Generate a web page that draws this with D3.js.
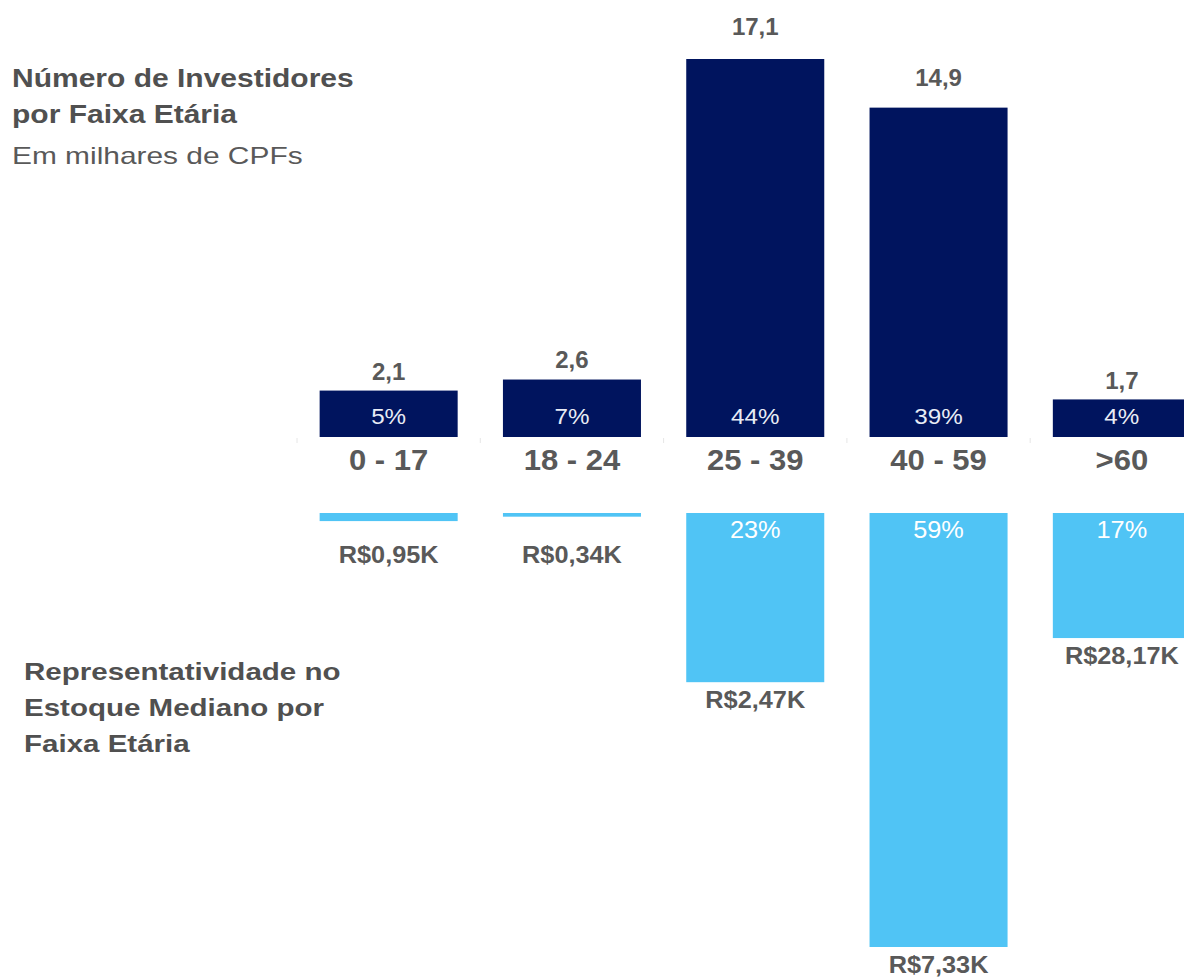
<!DOCTYPE html>
<html>
<head>
<meta charset="utf-8">
<script src="https://cdn.jsdelivr.net/npm/d3@7"></script>
<style>
  body { margin: 0; background: #fff; }
  text { font-family: "Liberation Sans", Arial, sans-serif; }
</style>
</head>
<body>
<div id="chart"></div>
<script>
// Data
const categories = ["0 - 17", "18 - 24", "25 - 39", "40 - 59", ">60"];
const investors = [2.1, 2.6, 17.1, 14.9, 1.7];           // milhares de CPFs
const investorShare = [5, 7, 44, 39, 4];                 // %
const stockShare = [1.1, 0.5, 23, 59, 17];               // % do estoque
const medianStock = ["R$0,95K", "R$0,34K", "R$2,47K", "R$7,33K", "R$28,17K"];

const data = categories.map((c, i) => ({
  cat: c,
  inv: investors[i],
  invPct: investorShare[i],
  stock: stockShare[i],
  median: medianStock[i]
}));

const width = 1184;
const height = 979;
const navy = "#00145e";
const sky = "#50c4f5";
const grey = "#595959";

const svg = d3
  .select("#chart")
  .append("svg")
  .attr("width", width)
  .attr("height", height);

// Scales
const x = d3.scaleBand()
  .domain(categories)
  .range([297, 297 + 5 * 183.3])
  .paddingInner(0.247)
  .paddingOuter(0.1235);

const yTop = d3.scaleLinear().domain([0, 17.1]).range([437, 59]);
const yTopLabel = d3.scaleLinear().domain([0, 17.1]).range([428, 35]);
const yBot = d3.scaleLinear().domain([0, 59]).range([513, 947]);

// helper to put a horizontally stretched text
function addText(sel, opts) {
  return sel.append("text")
    .attr("transform", (d, i) =>
      "translate(" + opts.x(d, i) + "," + opts.y(d, i) + ") scale(" + (opts.sx || 1) + ",1)")
    .attr("text-anchor", opts.anchor || "middle")
    .style("font-size", opts.size + "px")
    .style("font-weight", opts.weight || "normal")
    .attr("fill", opts.fill || grey)
    .text(opts.text);
}

// Top bars
const gTop = svg.append("g");
gTop.selectAll(".bar-top")
  .data(data)
  .enter()
  .append("rect")
  .attr("class", "bar-top")
  .attr("x", (d) => x(d.cat))
  .attr("width", x.bandwidth())
  .attr("y", (d) => yTop(d.inv))
  .attr("height", (d) => yTop(0) - yTop(d.inv))
  .attr("fill", navy);

const topLabels = gTop.selectAll(".lbl-top").data(data).enter().append("g");
addText(topLabels, {
  x: (d) => x(d.cat) + x.bandwidth() / 2,
  y: (d) => yTopLabel(d.inv),
  size: 24, weight: "bold",
  text: (d) => d3.format(".1f")(d.inv).replace(".", ",")
});
addText(topLabels, {
  x: (d) => x(d.cat) + x.bandwidth() / 2,
  y: () => yTop(0) - 13,
  size: 22, sx: 1.1, fill: "#e8ecf5",
  text: (d) => d.invPct + "%"
});

// faint tick marks between categories
svg.append("g")
  .selectAll("line")
  .data(categories)
  .enter()
  .append("line")
  .attr("x1", (d) => x(d) - x.step() * x.paddingInner() / 2)
  .attr("x2", (d) => x(d) - x.step() * x.paddingInner() / 2)
  .attr("y1", yTop(0) + 1)
  .attr("y2", yTop(0) + 6)
  .attr("stroke", "#e6e6e6")
  .attr("stroke-width", 1);

// Category labels
const cats = svg.append("g").selectAll("g").data(data).enter().append("g");
addText(cats, {
  x: (d) => x(d.cat) + x.bandwidth() / 2,
  y: () => 470,
  size: 29, weight: "bold", sx: 1.07,
  text: (d) => d.cat
});

// Bottom bars
const gBot = svg.append("g");
gBot.selectAll(".bar-bot")
  .data(data)
  .enter()
  .append("rect")
  .attr("class", "bar-bot")
  .attr("x", (d) => x(d.cat))
  .attr("width", x.bandwidth())
  .attr("y", yBot(0))
  .attr("height", (d) => yBot(d.stock) - yBot(0))
  .attr("fill", sky);

const botLabels = gBot.selectAll(".lbl-bot").data(data).enter().append("g");
addText(botLabels.filter((d) => d.stock >= 5), {
  x: (d) => x(d.cat) + x.bandwidth() / 2,
  y: () => yBot(0) + 25,
  size: 23, sx: 1.1, fill: "#ffffff",
  text: (d) => d.stock + "%"
});
addText(botLabels, {
  x: (d) => x(d.cat) + x.bandwidth() / 2,
  y: (d) => Math.max(yBot(d.stock) + 26, yBot(0) + 50),
  size: 23, weight: "bold", sx: 1.1,
  text: (d) => d.median
});

// Titles
const titleA = ["Número de Investidores", "por Faixa Etária"];
titleA.forEach((t, i) => {
  svg.append("text")
    .attr("transform", "translate(12," + (87 + i * 36) + ") scale(1.2,1)")
    .style("font-size", "25px")
    .style("font-weight", "bold")
    .attr("fill", "#505050")
    .text(t);
});
svg.append("text")
  .attr("transform", "translate(12,164) scale(1.3,1)")
  .style("font-size", "23px")
  .attr("fill", "#595959")
  .text("Em milhares de CPFs");

const titleB = ["Representatividade no", "Estoque Mediano por", "Faixa Etária"];
titleB.forEach((t, i) => {
  svg.append("text")
    .attr("transform", "translate(24," + (680 + i * 36) + ") scale(1.23,1)")
    .style("font-size", "24px")
    .style("font-weight", "bold")
    .attr("fill", "#505050")
    .text(t);
});
</script>
</body>
</html>
